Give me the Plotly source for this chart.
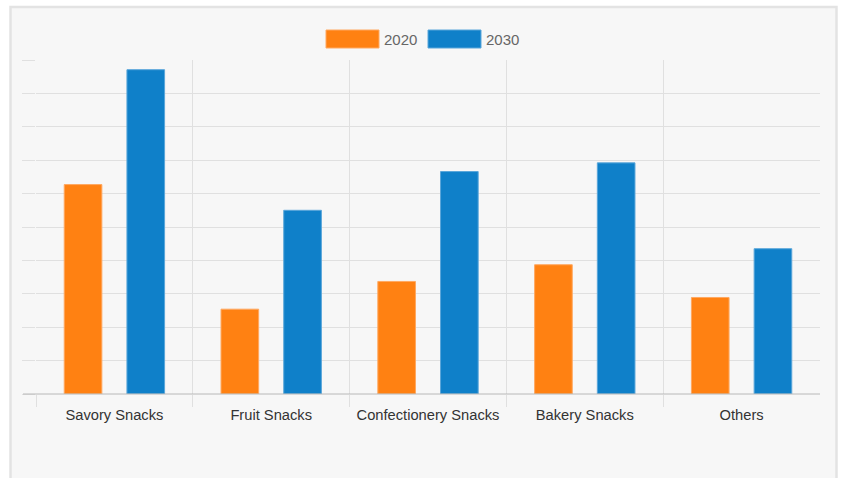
import plotly.graph_objects as go

categories = ["Savory Snacks", "Fruit Snacks", "Confectionery Snacks", "Bakery Snacks", "Others"]
series_names = ["2020", "2030"]
values_2020 = [62.7, 25.4, 33.7, 38.7, 28.9]
values_2030 = [97.1, 55.0, 66.6, 69.2, 43.5]
colors = ["#FF8112", "#0F80C9"]
line_colors = ["#FFA860", "#5AA6DA"]

W, H = 842, 478
ML, MR, MT, MB = 36, 22, 60, 84
PW, PH = W - ML - MR, H - MT - MB

def px(x):
    return (x - ML) / PW

def py(y):
    return (H - MB - y) / PH

xs = list(range(len(categories)))
fig = go.Figure()
for name, vals, c, lc in zip(series_names, [values_2020, values_2030], colors, line_colors):
    fig.add_trace(go.Bar(x=xs, y=vals, name=name, marker=dict(color=c, line=dict(color=lc, width=1)),
                         showlegend=False, hoverinfo="skip"))

shapes = [
    dict(type="rect", xref="paper", yref="paper", x0=px(10.5), x1=px(836.5), y0=py(7), y1=py(490),
         fillcolor="#F7F7F7", line=dict(color="#E3E3E3", width=2.5), layer="below"),
]
annotations = []
legend_x = [326, 428]
for i, name in enumerate(series_names):
    x0 = legend_x[i]
    shapes.append(dict(type="rect", xref="paper", yref="paper", x0=px(x0), x1=px(x0 + 53),
                       y0=py(48), y1=py(30), fillcolor=colors[i],
                       line=dict(color=line_colors[i], width=1)))
    annotations.append(dict(xref="paper", yref="paper", x=px(x0 + 56), y=py(39), text=name,
                            showarrow=False, xanchor="left", yanchor="middle",
                            font=dict(family="Liberation Sans, Arial", size=15, color="#666666")))

fig.update_layout(
    width=W, height=H,
    margin=dict(l=ML, r=MR, t=MT, b=MB),
    paper_bgcolor="white", plot_bgcolor="rgba(0,0,0,0)",
    barmode="group", bargap=0.2, bargroupgap=0.4,
    shapes=shapes, annotations=annotations,
    font=dict(family="Liberation Sans, Arial", size=14, color="#333333"),
    xaxis=dict(range=[-0.5, len(categories) - 0.5], tickmode="array", tickvals=xs, ticktext=categories,
               ticks="outside", ticklen=7, tickcolor="rgba(0,0,0,0)",
               showgrid=False, zeroline=False, showline=False,
               tickfont=dict(size=14.7, color="#333333"),
               minor=dict(tickmode="array", tickvals=[i - 0.5 for i in xs], ticks="outside", ticklen=12,
                          tickcolor="#E0E0E0", tickwidth=1, showgrid=True, gridcolor="#E0E0E0", gridwidth=1)),
    yaxis=dict(range=[0, 100], dtick=10, showticklabels=False, ticks="outside", ticklen=13,
               tickcolor="#E0E0E0", gridcolor="#E0E0E0", gridwidth=1, zeroline=False,
               showline=False),
)
fig.add_shape(type="line", xref="paper", yref="paper", x0=px(23), x1=1, y0=0, y1=0,
              line=dict(color="#B8B8B8", width=1))
fig.write_html("out.html", config={"displayModeBar": False},
               post_script="document.body.style.margin='0';document.body.style.overflow='hidden';")
